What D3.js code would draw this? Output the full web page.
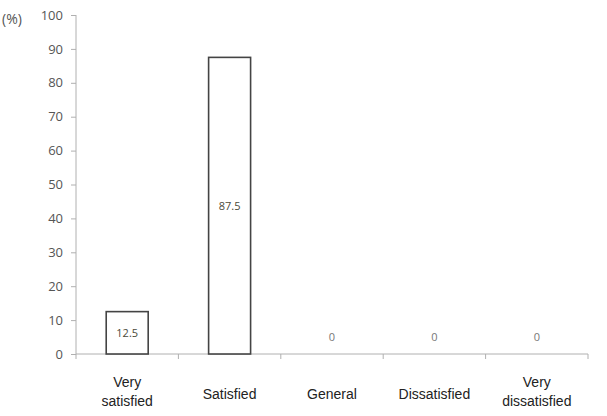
<!DOCTYPE html>
<html>
<head>
<meta charset="utf-8">
<script src="https://cdn.jsdelivr.net/npm/d3@7"></script>
<style>
  body { margin: 0; background: #fff; }
  svg { display: block; }
</style>
</head>
<body>
<div id="chart"></div>
<script>
// 数据
const categories = ["Very satisfied", "Satisfied", "General", "Dissatisfied", "Very dissatisfied"];
const catLines = [["Very", "satisfied"], ["Satisfied"], ["General"], ["Dissatisfied"], ["Very", "dissatisfied"]];
const values = [12.5, 87.5, 0, 0, 0];
const yTicks = [0, 10, 20, 30, 40, 50, 60, 70, 80, 90, 100];

const W = 607, H = 416;
const margin = { top: 15, right: 19, bottom: 62, left: 76 };
const width = W - margin.left - margin.right,
      height = H - margin.top - margin.bottom;

const svg = d3.select("#chart").append("svg")
    .attr("width", W).attr("height", H)
    .append("g")
    .attr("transform", `translate(${margin.left},${margin.top})`);

const x = d3.scaleBand().domain(categories).range([0, width]).paddingInner(0.59).paddingOuter(0.295);
const xb = d3.scaleBand().domain(categories).range([0, width]);
const y = d3.scaleLinear().domain([0, 100]).range([height, 0]);

// Y轴
const yAxis = svg.append("g")
    .call(d3.axisLeft(y).tickValues(yTicks).tickSize(5).tickPadding(8));
yAxis.select(".domain").attr("stroke", "#b0b0b0").attr("d", `M0,${height}V0`);
yAxis.selectAll(".tick line").attr("stroke", "#b0b0b0");
yAxis.selectAll(".tick text")
    .attr("fill", "#555")
    .style("font-family", "'Open Sans', sans-serif")
    .style("font-size", "13px");

// X轴
const xg = svg.append("g").attr("transform", `translate(0,${height})`);
xg.append("line").attr("x1", 0).attr("x2", width).attr("stroke", "#b0b0b0");
xg.selectAll(".xt")
    .data(categories.map(c => xb(c) + xb.bandwidth()).concat([0]))
    .enter().append("line")
    .attr("x1", d => d).attr("x2", d => d)
    .attr("y1", 0).attr("y2", 5)
    .attr("stroke", "#b0b0b0");

// 类别标签
categories.forEach((c, i) => {
    const lines = catLines[i];
    const t = xg.append("text")
        .attr("text-anchor", "middle")
        .attr("x", xb(c) + xb.bandwidth() / 2)
        .attr("y", lines.length === 1 ? 45 : 33)
        .attr("fill", "#222")
        .style("font-family", "'Liberation Sans', Arial, sans-serif")
        .style("font-size", "14px");
    lines.forEach((l, j) => {
        t.append("tspan")
            .attr("x", xb(c) + xb.bandwidth() / 2)
            .attr("dy", j === 0 ? 0 : 19)
            .text(l);
    });
});

// 柱子
svg.selectAll(".bar")
    .data(values.map((v, i) => ({ c: categories[i], v })).filter(d => d.v > 0))
    .enter().append("rect")
    .attr("x", d => x(d.c))
    .attr("y", d => y(d.v))
    .attr("width", x.bandwidth())
    .attr("height", d => height - y(d.v))
    .attr("fill", "#fff")
    .attr("stroke", "#444")
    .attr("stroke-width", 1.6);

// 数值标签
svg.selectAll(".val")
    .data(values.map((v, i) => ({ c: categories[i], v })))
    .enter().append("text")
    .attr("text-anchor", "middle")
    .attr("x", d => x(d.c) + x.bandwidth() / 2)
    .attr("y", d => d.v > 0 ? y(d.v / 2) + 4 : y(0) - 13)
    .attr("fill", d => d.v > 0 ? "#4a4a3a" : "#777")
    .style("font-family", "'Open Sans', sans-serif")
    .style("font-size", "11px")
    .text(d => d.v);

// 单位
svg.append("text")
    .attr("x", -74).attr("y", 9)
    .attr("fill", "#555")
    .style("font-family", "'Open Sans', sans-serif")
    .style("font-size", "14px")
    .text("(%)");
</script>
</body>
</html>
